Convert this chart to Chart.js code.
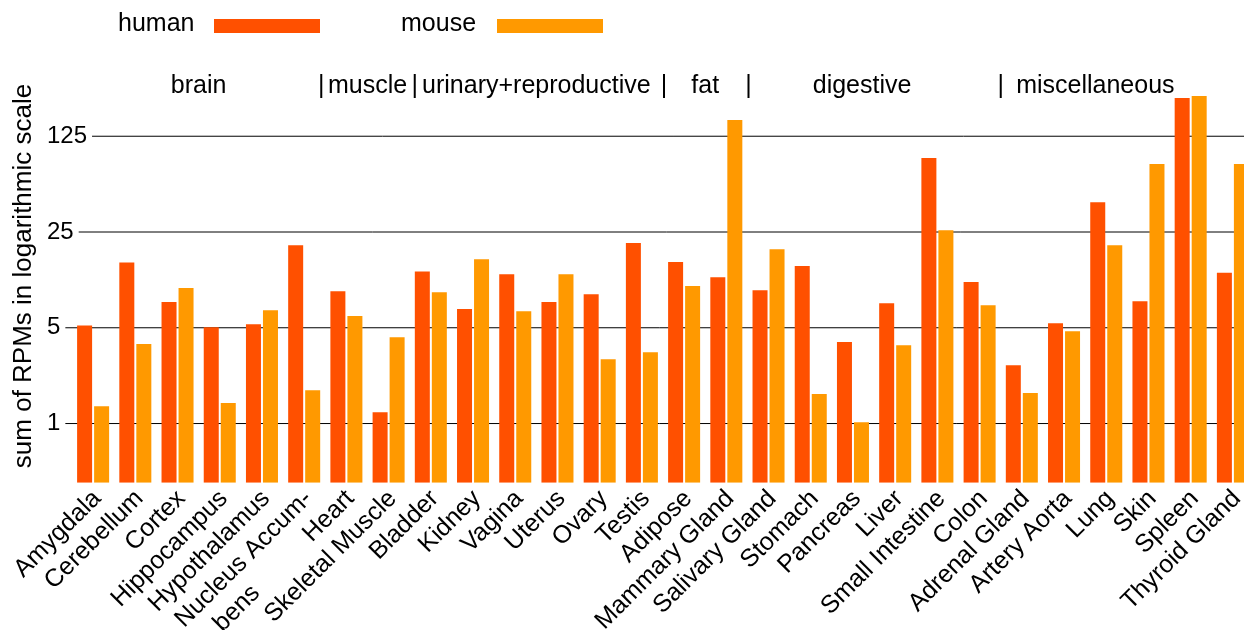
<!DOCTYPE html>
<html>
<head>
<meta charset="utf-8">
<script src="https://cdn.jsdelivr.net/npm/chart.js@4/dist/chart.umd.min.js"></script>
<style>
  html, body { margin: 0; padding: 0; background: #fff; overflow: hidden; }
  #wrap { position: relative; width: 1254px; height: 630px; }
</style>
</head>
<body>
<div id="wrap"><canvas id="c"></canvas></div>
<script>
// Tissues (x categories)
const tissues = [
  'Amygdala', 'Cerebellum', 'Cortex', 'Hippocampus', 'Hypothalamus',
  ['Nucleus Accum-', 'bens'], 'Heart', 'Skeletal Muscle', 'Bladder', 'Kidney',
  'Vagina', 'Uterus', 'Ovary', 'Testis', 'Adipose', 'Mammary Gland',
  'Salivary Gland', 'Stomach', 'Pancreas', 'Liver', 'Small Intestine', 'Colon',
  'Adrenal Gland', 'Artery Aorta', 'Lung', 'Skin', 'Spleen', 'Thyroid Gland'
];

// Sum of RPMs per tissue
const humanRPM = [
  5.2, 15.0, 7.7, 5.05, 5.3, 20.0, 9.25, 1.21, 12.9, 6.85,
  12.3, 7.7, 8.8, 20.8, 15.1, 11.7, 9.4, 14.1, 3.93, 7.55,
  86.6, 10.8, 2.66, 5.4, 41.3, 7.8, 238, 12.6
];
const mouseRPM = [
  1.34, 3.8, 9.75, 1.41, 6.7, 1.75, 6.1, 4.27, 9.1, 15.8,
  6.6, 12.3, 2.95, 3.32, 10.1, 164, 18.7, 1.64, 1.02, 3.73,
  25.8, 7.3, 1.67, 4.72, 20.0, 78.4, 246, 78.4
];

// Log axis (base 5 ticks)
const yTicks = [1, 5, 25, 125];
const yMin = 0.37;
const yMax = 250;

// Tissue groups (first and last category index)
const groupNames = ['brain', 'muscle', 'urinary+reproductive', 'fat', 'digestive', 'miscellaneous'];
const groupStart = [0, 6, 8, 14, 16, 22];
const groupEnd   = [5, 7, 13, 15, 21, 27];

const seriesNames = ['human', 'mouse'];
const seriesColors = ['#FF5000', '#FF9900'];

const FONT = '"Liberation Sans", Arial, Helvetica, sans-serif';

// Horizontal grid lines, reaching back to the tick labels
const gridPlugin = {
  id: 'logGrid',
  beforeDatasetsDraw(chart) {
    const ctx = chart.ctx, y = chart.scales.y;
    ctx.save();
    ctx.font = '24px ' + FONT;
    ctx.strokeStyle = '#000';
    ctx.lineWidth = 1;
    yTicks.forEach(v => {
      const py = y.getPixelForValue(v);
      const w = ctx.measureText(String(v)).width;
      ctx.beginPath();
      ctx.moveTo(47 + w + 5, py);
      ctx.lineTo(chart.width, py);
      ctx.stroke();
    });
    ctx.restore();
  }
};

// Tick labels, axis title, category labels, group headers and legend
const textPlugin = {
  id: 'texts',
  afterDraw(chart) {
    const ctx = chart.ctx, x = chart.scales.x, y = chart.scales.y;
    const area = chart.chartArea;
    ctx.save();
    ctx.fillStyle = '#000';

    // y tick labels
    ctx.font = '24px ' + FONT;
    ctx.textAlign = 'left';
    ctx.textBaseline = 'middle';
    yTicks.forEach(v => ctx.fillText(String(v), 47, y.getPixelForValue(v)));

    // y title
    ctx.save();
    ctx.translate(24, 276);
    ctx.rotate(-Math.PI / 2);
    ctx.font = '26px ' + FONT;
    ctx.textAlign = 'center';
    ctx.textBaseline = 'middle';
    ctx.fillText('sum of RPMs in logarithmic scale', 0, 0);
    ctx.restore();

    // category labels, rotated 45 degrees
    ctx.font = '25px ' + FONT;
    tissues.forEach((lab, i) => {
      const px = x.getPixelForValue(i);
      ctx.save();
      ctx.translate(px + 4, area.bottom + 12);
      ctx.rotate(-Math.PI / 4);
      ctx.textBaseline = 'middle';
      if (Array.isArray(lab)) {
        ctx.textAlign = 'right';
        ctx.fillText(lab[0], 0, 0);
        const w0 = ctx.measureText(lab[0]).width;
        ctx.textAlign = 'left';
        ctx.fillText(lab[1], -w0 + 24, 30);
      } else {
        ctx.textAlign = 'right';
        ctx.fillText(lab, 0, 0);
      }
      ctx.restore();
    });

    // group headers with separators
    const half = (x.getPixelForValue(1) - x.getPixelForValue(0)) / 2;
    const nameShift = [0, 0, 0, 0, -12, -32];
    const sepShift = [-4, 5, 1, 1, 0];
    ctx.font = '25px ' + FONT;
    ctx.textBaseline = 'alphabetic';
    ctx.textAlign = 'center';
    groupNames.forEach((g, k) => {
      const cx = (x.getPixelForValue(groupStart[k]) + x.getPixelForValue(groupEnd[k])) / 2;
      ctx.fillText(g, cx + nameShift[k], 93);
      if (k < groupNames.length - 1) {
        const bx = x.getPixelForValue(groupEnd[k]) + half;
        ctx.fillText('|', bx + sepShift[k], 93);
      }
    });

    // legend: name then colour bar
    const legendX = [118, 401];
    ctx.textAlign = 'left';
    chart.data.datasets.forEach((ds, k) => {
      ctx.fillStyle = '#000';
      ctx.fillText(ds.label, legendX[k], 31);
      ctx.fillStyle = ds.backgroundColor;
      ctx.fillRect(legendX[k] + 96, 19, 106, 14);
    });
    ctx.restore();
  }
};

new Chart(document.getElementById('c'), {
  type: 'bar',
  data: {
    labels: tissues,
    datasets: [
      { label: seriesNames[0], data: humanRPM, backgroundColor: seriesColors[0] },
      { label: seriesNames[1], data: mouseRPM, backgroundColor: seriesColors[1] }
    ]
  },
  options: {
    responsive: true,
    maintainAspectRatio: false,
    animation: false,
    devicePixelRatio: 1,
    layout: { padding: { top: 95, left: 0, right: 0, bottom: 0 } },
    datasets: { bar: { categoryPercentage: 0.806, barPercentage: 0.882 } },
    plugins: { legend: { display: false }, tooltip: { enabled: false } },
    scales: {
      x: {
        grid: { display: false },
        border: { display: false },
        ticks: { display: false },
        afterFit(s) { s.height = 147.3; }
      },
      y: {
        type: 'logarithmic',
        min: yMin,
        max: yMax,
        grid: { display: false },
        border: { display: false },
        ticks: { display: false },
        afterBuildTicks(s) { s.ticks = yTicks.map(v => ({ value: v })); },
        afterFit(s) { s.width = 72; }
      }
    }
  },
  plugins: [gridPlugin, textPlugin]
});
</script>
</body>
</html>
